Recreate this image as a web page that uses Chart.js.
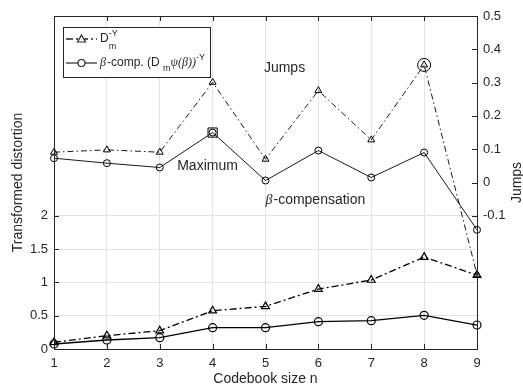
<!DOCTYPE html>
<html>
<head>
<meta charset="utf-8">
<script src="https://cdn.jsdelivr.net/npm/chart.js@4/dist/chart.umd.min.js"></script>
<style>
  html, body { margin: 0; padding: 0; background: #fff; }
  #wrap { width: 523px; height: 386px; }
</style>
</head>
<body>
<div id="wrap"><canvas id="myChart" width="523" height="386"></canvas></div>
<script>
// codebook size
var codebookSize = [1, 2, 3, 4, 5, 6, 7, 8, 9];
// transformed distortion (left axis)
var distD = [0.10, 0.20, 0.275, 0.575, 0.64, 0.90, 1.036, 1.38, 1.11];
var distBeta = [0.075, 0.135, 0.17, 0.32, 0.32, 0.41, 0.425, 0.506, 0.36];
// jumps (right axis)
var jumpD = [0.091, 0.098, 0.091, 0.301, 0.070, 0.276, 0.128, 0.353, -0.277];
var jumpBeta = [0.073, 0.058, 0.045, 0.150, 0.006, 0.096, 0.015, 0.090, -0.142];
// tick labels
var leftTicks = [0, 0.5, 1, 1.5, 2];
var rightTicks = [-0.1, 0, 0.1, 0.2, 0.3, 0.4, 0.5];
// highlighted points: maximum of beta-comp. jumps, maximum of D jumps
var maxBeta = [{x: 4, y: 0.150}];
var maxD = [{x: 8, y: 0.353}];
// text notes placed in data coordinates (right axis)
var notes = [
  {text: 'Jumps', x: 4.97, y: 0.342},
  {text: 'Maximum', x: 3.33, y: 0.048},
  {text: '-compensation', beta: true, x: 5.0, y: -0.052}
];

var ink = '#262626';
var sans = '"Liberation Sans", Arial, Helvetica, sans-serif';
var serif = '"Liberation Serif", "DejaVu Serif", serif';

function pts(xs, ys) {
  return xs.map((x, i) => ({x: x, y: ys[i]}));
}

var dashDot = [7, 3, 2, 3];

// frame, inward ticks, notes, right title and legend
var decor = {
  id: 'decor',
  afterDraw(chart) {
    var ctx = chart.ctx;
    var a = chart.chartArea;
    var sx = chart.scales.x, sy = chart.scales.y, sy1 = chart.scales.y1;
    ctx.save();
    ctx.strokeStyle = ink;
    ctx.lineWidth = 1;
    ctx.strokeRect(Math.round(a.left) + 0.5, Math.round(a.top) + 0.5,
      Math.round(a.right - a.left), Math.round(a.bottom - a.top));
    ctx.beginPath();
    codebookSize.forEach(v => {
      var px = Math.round(sx.getPixelForValue(v)) + 0.5;
      ctx.moveTo(px, a.bottom); ctx.lineTo(px, a.bottom - 5);
      ctx.moveTo(px, a.top); ctx.lineTo(px, a.top + 5);
    });
    leftTicks.forEach(v => {
      var py = Math.round(sy.getPixelForValue(v)) + 0.5;
      ctx.moveTo(a.left, py); ctx.lineTo(a.left + 5, py);
    });
    rightTicks.forEach(v => {
      var py = Math.round(sy1.getPixelForValue(v)) + 0.5;
      ctx.moveTo(a.right, py); ctx.lineTo(a.right - 5, py);
    });
    ctx.stroke();

    // notes
    ctx.fillStyle = ink;
    ctx.textBaseline = 'middle';
    ctx.textAlign = 'left';
    notes.forEach(n => {
      var px = sx.getPixelForValue(n.x);
      var py = sy1.getPixelForValue(n.y);
      if (n.beta) {
        ctx.font = 'italic 14px ' + serif;
        ctx.fillText('\u03B2', px, py);
        px += ctx.measureText('\u03B2').width + 1;
      }
      ctx.font = '14px ' + sans;
      ctx.fillText(n.text, px, py);
    });

    // right axis title, reading bottom to top
    ctx.save();
    ctx.translate(517, (a.top + a.bottom) / 2);
    ctx.rotate(-Math.PI / 2);
    ctx.textAlign = 'center';
    ctx.font = '14px ' + sans;
    ctx.fillText('Jumps', 0, 0);
    ctx.restore();

    // legend
    var lx = 63.5, ly = 27.5, lw = 147, lh = 50;
    ctx.fillStyle = '#fff';
    ctx.fillRect(lx, ly, lw, lh);
    ctx.strokeStyle = ink;
    ctx.strokeRect(lx, ly, lw, lh);
    ctx.fillStyle = ink;
    ctx.textBaseline = 'alphabetic';

    // entry 1
    ctx.beginPath();
    ctx.setLineDash([7, 3, 2, 3]);
    ctx.lineWidth = 1.3;
    ctx.moveTo(66, 39); ctx.lineTo(97, 39);
    ctx.stroke();
    ctx.setLineDash([]);
    ctx.lineWidth = 1.2;
    ctx.beginPath();
    ctx.moveTo(81.5, 35); ctx.lineTo(85.5, 42); ctx.lineTo(77.5, 42); ctx.closePath();
    ctx.fillStyle = '#fff'; ctx.fill(); ctx.stroke();
    ctx.fillStyle = ink;
    ctx.font = '12px ' + sans;
    ctx.fillText('D', 100, 42);
    var dw = ctx.measureText('D').width;
    ctx.font = '9px ' + sans;
    ctx.fillText('m', 100 + dw, 49);
    ctx.fillText('-Y', 100 + dw, 36);

    // entry 2
    ctx.beginPath();
    ctx.moveTo(66, 63); ctx.lineTo(97, 63);
    ctx.stroke();
    ctx.beginPath();
    ctx.arc(81.5, 63, 3.5, 0, Math.PI * 2);
    ctx.fillStyle = '#fff'; ctx.fill(); ctx.stroke();
    ctx.fillStyle = ink;
    var x = 100, base = 66;
    function put(txt, font, dy) {
      ctx.font = font;
      ctx.fillText(txt, x, base + (dy || 0));
      x += ctx.measureText(txt).width;
    }
    put('\u03B2', 'italic 12px ' + serif);
    x += 1;
    put('-comp. (D ', '12px ' + sans);
    put('m', '9px ' + sans, 5);
    put('\u03C8(\u03B2))', 'italic 12px ' + serif);
    put('-Y', '9px ' + sans, -6);
    ctx.restore();
  }
};

var ctx = document.getElementById('myChart').getContext('2d');
var chart = new Chart(ctx, {
  type: 'line',
  data: {
    datasets: [{
      label: 'distD',
      data: pts(codebookSize, distD),
      yAxisID: 'y',
      borderColor: 'black',
      borderWidth: 1.3,
      borderDash: dashDot,
      pointStyle: 'triangle',
      pointRadius: 4.5,
      pointBorderWidth: 1.2,
      pointBackgroundColor: 'rgba(0,0,0,0)',
      pointBorderColor: 'black',
      clip: false
    }, {
      label: 'distBeta',
      data: pts(codebookSize, distBeta),
      yAxisID: 'y',
      borderColor: 'black',
      borderWidth: 1.3,
      pointStyle: 'circle',
      pointRadius: 4,
      pointBorderWidth: 1.2,
      pointBackgroundColor: 'rgba(0,0,0,0)',
      pointBorderColor: 'black',
      clip: false
    }, {
      label: 'jumpD',
      data: pts(codebookSize, jumpD),
      yAxisID: 'y1',
      borderColor: 'black',
      borderWidth: 0.9,
      borderDash: [6, 3, 1.5, 3],
      pointStyle: 'triangle',
      pointRadius: 4,
      pointBorderWidth: 1,
      pointBackgroundColor: 'rgba(0,0,0,0)',
      pointBorderColor: 'black',
      clip: false
    }, {
      label: 'jumpBeta',
      data: pts(codebookSize, jumpBeta),
      yAxisID: 'y1',
      borderColor: 'black',
      borderWidth: 0.9,
      pointStyle: 'circle',
      pointRadius: 3.5,
      pointBorderWidth: 1,
      pointBackgroundColor: 'rgba(0,0,0,0)',
      pointBorderColor: 'black',
      clip: false
    }, {
      label: 'maxBeta',
      data: maxBeta,
      yAxisID: 'y1',
      showLine: false,
      pointStyle: 'rect',
      pointRadius: 6.5,
      pointBorderWidth: 1,
      pointBackgroundColor: 'rgba(0,0,0,0)',
      pointBorderColor: 'black'
    }, {
      label: 'maxD',
      data: maxD,
      yAxisID: 'y1',
      showLine: false,
      pointStyle: 'circle',
      pointRadius: 6.5,
      pointBorderWidth: 1,
      pointBackgroundColor: 'rgba(0,0,0,0)',
      pointBorderColor: 'black'
    }]
  },
  options: {
    responsive: false,
    animation: false,
    layout: { padding: { top: 16, left: 0, right: 0, bottom: 0 } },
    plugins: { legend: { display: false }, tooltip: { enabled: false } },
    elements: { line: { tension: 0 } },
    scales: {
      x: {
        type: 'linear',
        min: 1, max: 9,
        ticks: { stepSize: 1, color: ink, font: { size: 13, family: sans }, padding: 7 },
        grid: { color: '#e3e3e3', drawTicks: false },
        border: { display: false },
        title: { display: true, text: 'Codebook size n', color: ink,
          font: { size: 14, family: sans, lineHeight: 1 }, padding: { top: 0, bottom: 0 } },
        afterFit(s) { s.height = 37; }
      },
      y: {
        position: 'left',
        min: 0, max: 5,
        afterBuildTicks(s) { s.ticks = leftTicks.map(v => ({value: v})); },
        ticks: { color: ink, font: { size: 13, family: sans }, padding: 6,
          callback: v => String(v) },
        grid: { color: '#e3e3e3', drawTicks: false },
        border: { display: false },
        title: { display: true, text: 'Transformed distortion', color: ink,
          font: { size: 14, family: sans }, padding: { top: 10, bottom: 0 } },
        afterFit(s) { s.width = 54; }
      },
      y1: {
        position: 'right',
        min: -0.5, max: 0.5,
        afterBuildTicks(s) { s.ticks = rightTicks.map(v => ({value: v})); },
        ticks: { color: ink, font: { size: 13, family: sans }, padding: 6,
          callback: v => String(Math.round(v * 10) / 10) },
        grid: { display: false, drawTicks: false },
        border: { display: false },
        afterFit(s) { s.width = 46; }
      }
    }
  },
  plugins: [decor]
});
</script>
</body>
</html>
